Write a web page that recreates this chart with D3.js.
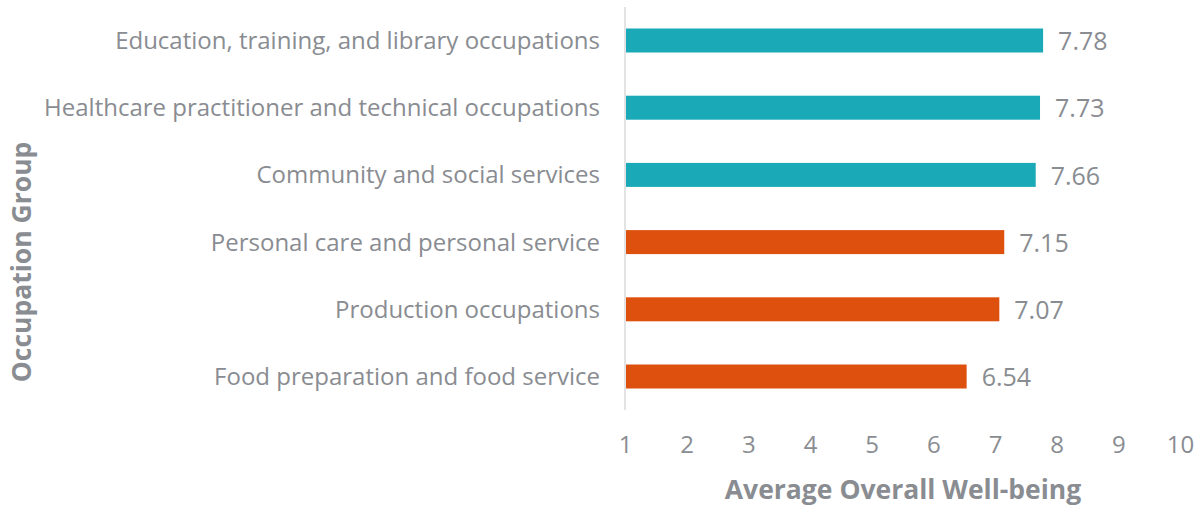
<!DOCTYPE html>
<html>
<head>
<meta charset="utf-8">
<script src="https://cdn.jsdelivr.net/npm/d3@7"></script>
<style>
  body { margin: 0; background: #fff; }
  svg { display: block; font-family: 'Open Sans', sans-serif; }
</style>
</head>
<body>
<div id="chart"></div>
<script>
const categories = [
  'Education, training, and library occupations',
  'Healthcare practitioner and technical occupations',
  'Community and social services',
  'Personal care and personal service',
  'Production occupations',
  'Food preparation and food service'
];
const values = [7.78, 7.73, 7.66, 7.15, 7.07, 6.54];
const groups = ['high', 'high', 'high', 'low', 'low', 'low'];
const xTicks = [1, 2, 3, 4, 5, 6, 7, 8, 9, 10];

const width = 1201, height = 506;
const textColor = '#898c91';
const colors = { high: '#19a9b7', low: '#de500d' };

const data = categories.map((c, i) => ({ cat: c, value: values[i], group: groups[i] }));

const x = d3.scaleLinear().domain([1, 10]).range([625, 1180]);
const y = d3.scaleBand().domain(categories).range([7, 410]).paddingInner(0.643).paddingOuter(0.32);

const svg = d3.select('#chart').append('svg')
  .attr('width', width)
  .attr('height', height);

// bars
svg.append('g').selectAll('rect')
  .data(data)
  .join('rect')
  .attr('x', x(1) + 1)
  .attr('y', d => y(d.cat))
  .attr('width', d => x(d.value) - x(1) - 1)
  .attr('height', y.bandwidth())
  .attr('fill', d => colors[d.group]);

// vertical axis line
svg.append('line')
  .attr('x1', x(1)).attr('x2', x(1))
  .attr('y1', 7).attr('y2', 410)
  .attr('stroke', '#e3e3e3')
  .attr('stroke-width', 2);

// category labels
svg.append('g').selectAll('text')
  .data(data)
  .join('text')
  .attr('x', 600)
  .attr('y', d => y(d.cat) + y.bandwidth() / 2)
  .attr('dy', '0.35em')
  .attr('text-anchor', 'end')
  .attr('fill', textColor)
  .style('font-size', '24px')
  .text(d => d.cat);

// value labels
svg.append('g').selectAll('text')
  .data(data)
  .join('text')
  .attr('x', d => x(d.value) + 15)
  .attr('y', d => y(d.cat) + y.bandwidth() / 2 + 1)
  .attr('dy', '0.35em')
  .attr('fill', textColor)
  .style('font-size', '25px')
  .text(d => d.value.toFixed(2));

// x axis
const xAxis = svg.append('g')
  .attr('transform', 'translate(0,445)')
  .call(d3.axisBottom(x).tickValues(xTicks).tickSize(0).tickPadding(0));
xAxis.select('.domain').remove();
xAxis.selectAll('text')
  .attr('dy', '0.35em')
  .attr('fill', textColor)
  .style('font-size', '24px')
  .style('font-family', 'Open Sans, sans-serif');

// axis titles
svg.append('text')
  .attr('x', 903)
  .attr('y', 490)
  .attr('dy', '0.35em')
  .attr('text-anchor', 'middle')
  .attr('fill', textColor)
  .style('font-size', '26.5px')
  .style('font-weight', 'bold')
  .text('Average Overall Well-being');

svg.append('text')
  .attr('transform', 'translate(22,262) rotate(-90)')
  .attr('dy', '0.35em')
  .attr('text-anchor', 'middle')
  .attr('fill', textColor)
  .style('font-size', '26.5px')
  .style('font-weight', 'bold')
  .text('Occupation Group');
</script>
</body>
</html>
